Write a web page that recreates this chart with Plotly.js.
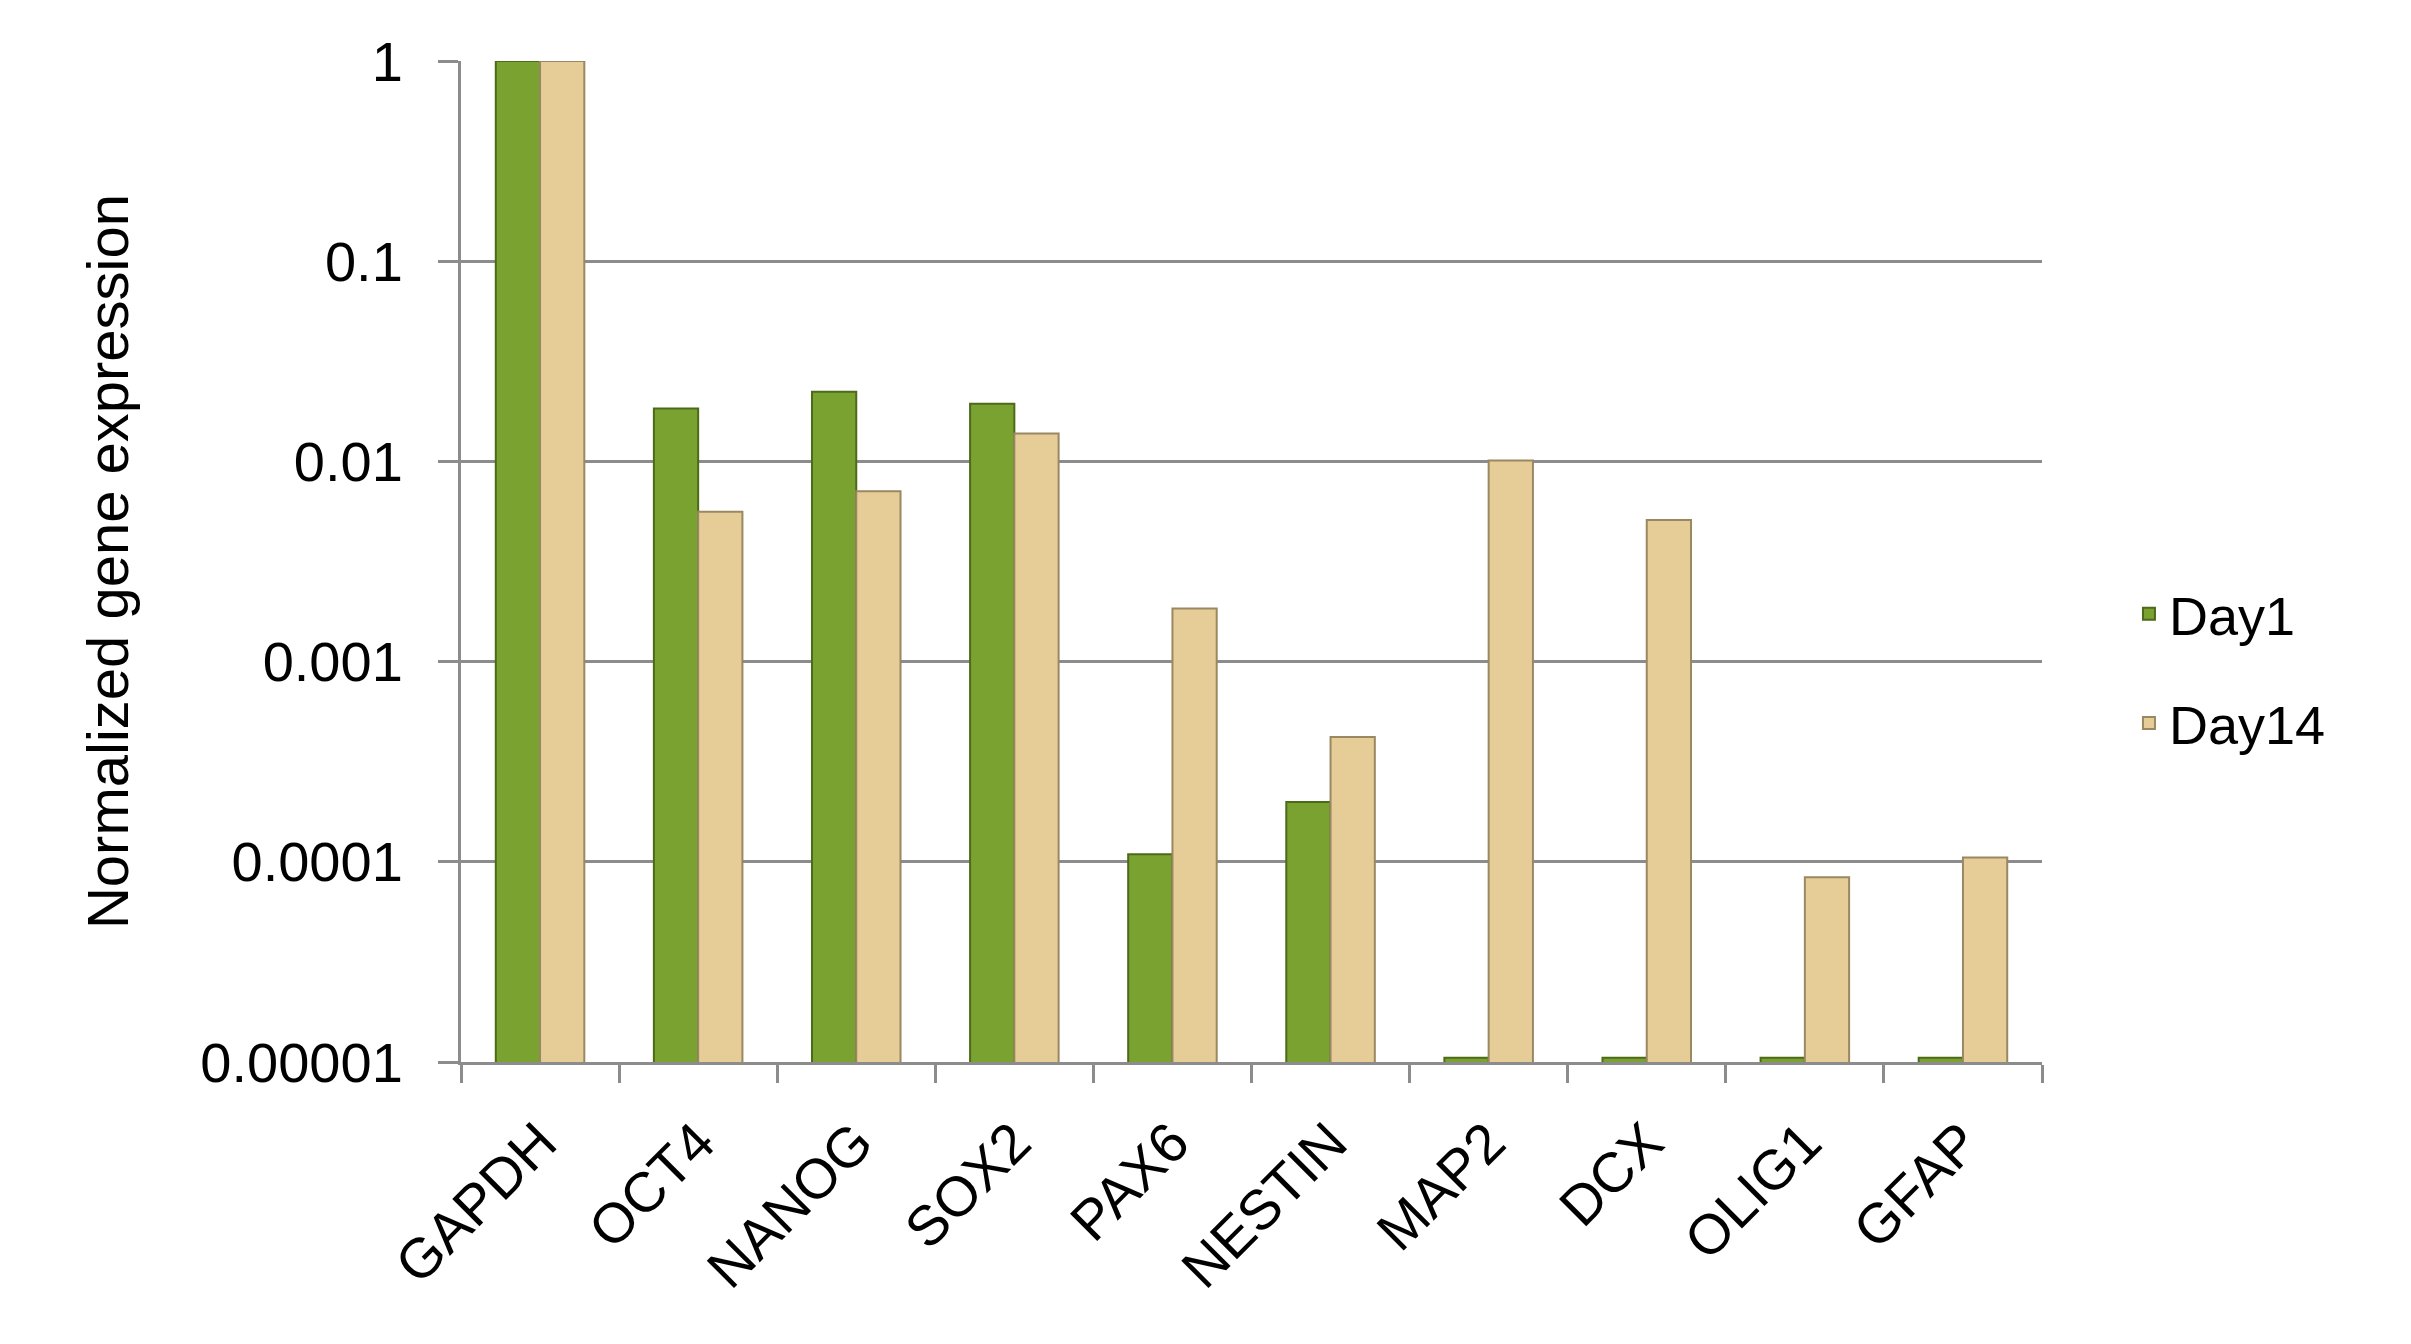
<!DOCTYPE html>
<html>
<head>
<meta charset="utf-8">
<script src="https://cdn.plot.ly/plotly-3.0.1.min.js"></script>
<style>html,body{margin:0;padding:0;background:#fff;}#chart{width:2411px;height:1344px;}</style>
</head>
<body>
<div id="chart"></div>
<script>
const genes = ["GAPDH", "OCT4", "NANOG", "SOX2", "PAX6", "NESTIN", "MAP2", "DCX", "OLIG1", "GFAP"];
const day1 = [1, 0.0184, 0.0223, 0.0194, 0.000109, 0.000199, 0.0000105, 0.0000105, 0.0000105, 0.0000105];
const day14 = [1, 0.0056, 0.0071, 0.0138, 0.00184, 0.00042, 0.0101, 0.0051, 0.0000836, 0.000105];
const yTickVals = [1, 0.1, 0.01, 0.001, 0.0001, 0.00001];
const yTickText = ["1", "0.1", "0.01", "0.001", "0.0001", "0.00001"];

const font = "Liberation Sans, Arial, sans-serif";

const traces = [
  {
    type: "bar", name: "Day1", x: genes, y: day1,
    legendgroup: "a",
    marker: { color: "#79a231", line: { color: "#4d6a18", width: 2 } }
  },
  {
    type: "bar", name: "Day14", x: genes, y: day14,
    legendgroup: "b",
    marker: { color: "#e6cd98", line: { color: "#9a8863", width: 2 } }
  }
];

const layout = {
  width: 2411, height: 1344,
  paper_bgcolor: "#ffffff", plot_bgcolor: "#ffffff",
  margin: { l: 461, r: 369, t: 61, b: 282 },
  barmode: "group", bargap: 0.44, bargroupgap: 0,
  font: { family: font, size: 54, color: "#000" },
  showlegend: true,
  legend: {
    x: 1.055, y: 0.393, xanchor: "left", yanchor: "middle",
    font: { family: font, size: 54, color: "#000" },
    traceorder: "grouped", tracegroupgap: 36,
    bgcolor: "rgba(0,0,0,0)"
  },
  xaxis: {
    type: "category",
    tickangle: -45,
    tickson: "boundaries",
    ticks: "outside", ticklen: 18, tickwidth: 3, tickcolor: "#8c8c8c",
    showline: true, linecolor: "#8c8c8c", linewidth: 3,
    showgrid: false,
    ticklabelstandoff: 22,
    tickfont: { family: font, size: 56, color: "#000" },
    automargin: false
  },
  yaxis: {
    type: "log",
    range: [-5, 0],
    tickvals: yTickVals, ticktext: yTickText,
    ticks: "outside", ticklen: 20, tickwidth: 3, tickcolor: "#8c8c8c",
    showline: true, linecolor: "#8c8c8c", linewidth: 3,
    showgrid: true, gridcolor: "#8c8c8c", gridwidth: 3,
    zeroline: false,
    ticklabelstandoff: 24,
    tickfont: { family: font, size: 56, color: "#000" },
    title: { text: "Normalized gene expression", font: { family: font, size: 58, color: "#000" }, standoff: 54 },
    automargin: false
  }
};

Plotly.newPlot("chart", traces, layout, { displayModeBar: false, staticPlot: true });
</script>
</body>
</html>
